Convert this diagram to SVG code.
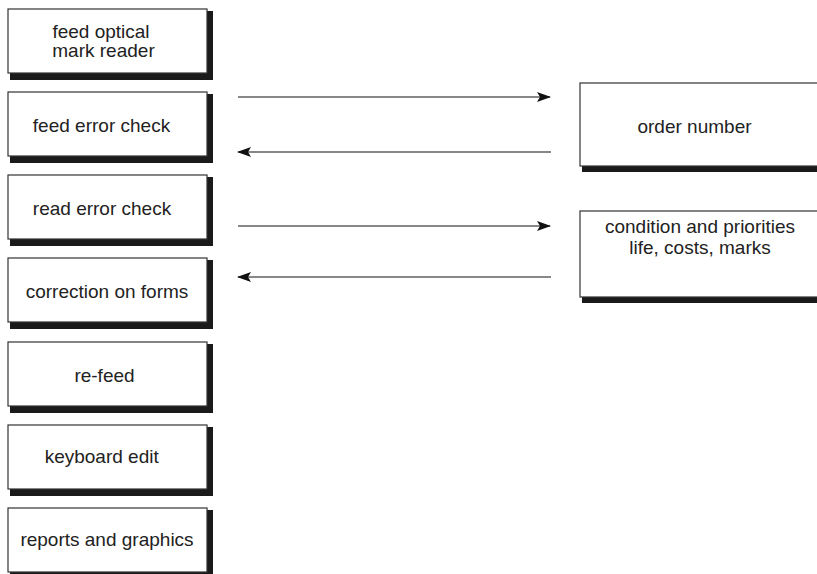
<svg xmlns="http://www.w3.org/2000/svg" width="817" height="574" viewBox="0 0 817 574">
<style>
.box{fill:#fff;stroke:#333;stroke-width:1.2}
.sh{fill:#1a1a1a}
text{font-family:"Liberation Sans",Arial,sans-serif;font-size:19px;fill:#222;text-anchor:middle}
.ln{stroke:#111;stroke-width:1.2;fill:none}
</style>
<defs>
<marker id="ah" viewBox="0 0 14 10" refX="13" refY="5" markerWidth="14" markerHeight="10" markerUnits="userSpaceOnUse" orient="auto">
<path d="M0,0 L14,5 L0,10 L3,5 Z" fill="#111"/>
</marker>
</defs>
<rect width="817" height="574" fill="#fff"/>
<g id="n1"><rect class="sh" x="10" y="11" width="203" height="69"/><rect class="box" x="8" y="9" width="199" height="64"/><text x="101" y="38">feed optical</text><text x="103.5" y="57">mark reader</text></g>
<g id="n2"><rect class="sh" x="10" y="94" width="203" height="69"/><rect class="box" x="8" y="92" width="199" height="64"/><text x="101.5" y="132">feed error check</text></g>
<g id="n3"><rect class="sh" x="10" y="177" width="203" height="69"/><rect class="box" x="8" y="175" width="199" height="64"/><text x="102" y="215">read error check</text></g>
<g id="n4"><rect class="sh" x="10" y="260" width="203" height="69"/><rect class="box" x="8" y="258" width="199" height="64"/><text x="107" y="298">correction on forms</text></g>
<g id="n5"><rect class="sh" x="10" y="344" width="203" height="69"/><rect class="box" x="8" y="342" width="199" height="64"/><text x="104.5" y="382">re-feed</text></g>
<g id="n6"><rect class="sh" x="10" y="427" width="203" height="69"/><rect class="box" x="8" y="425" width="199" height="64"/><text x="101.7" y="463">keyboard edit</text></g>
<g id="n7"><rect class="sh" x="10" y="510" width="203" height="69"/><rect class="box" x="8" y="508" width="199" height="64"/><text x="107" y="546">reports and graphics</text></g>
<g id="r1"><rect class="sh" x="582" y="85" width="240" height="87"/><rect class="box" x="580" y="83" width="240" height="83"/><text x="694.5" y="133">order number</text></g>
<g id="r2"><rect class="sh" x="582" y="213" width="240" height="90"/><rect class="box" x="580" y="211" width="240" height="86"/><text x="700" y="233">condition and priorities</text><text x="700" y="254">life, costs, marks</text></g>
<g id="connectors">
<line x1="238" y1="97" x2="550" y2="97" stroke="#888" stroke-width="2" marker-end="url(#ah)"/>
<line class="ln" x1="551" y1="152" x2="238" y2="152" marker-end="url(#ah)"/>
<line class="ln" x1="238" y1="226" x2="550" y2="226" marker-end="url(#ah)"/>
<line class="ln" x1="551" y1="277" x2="238" y2="277" marker-end="url(#ah)"/>
</g>
</svg>
